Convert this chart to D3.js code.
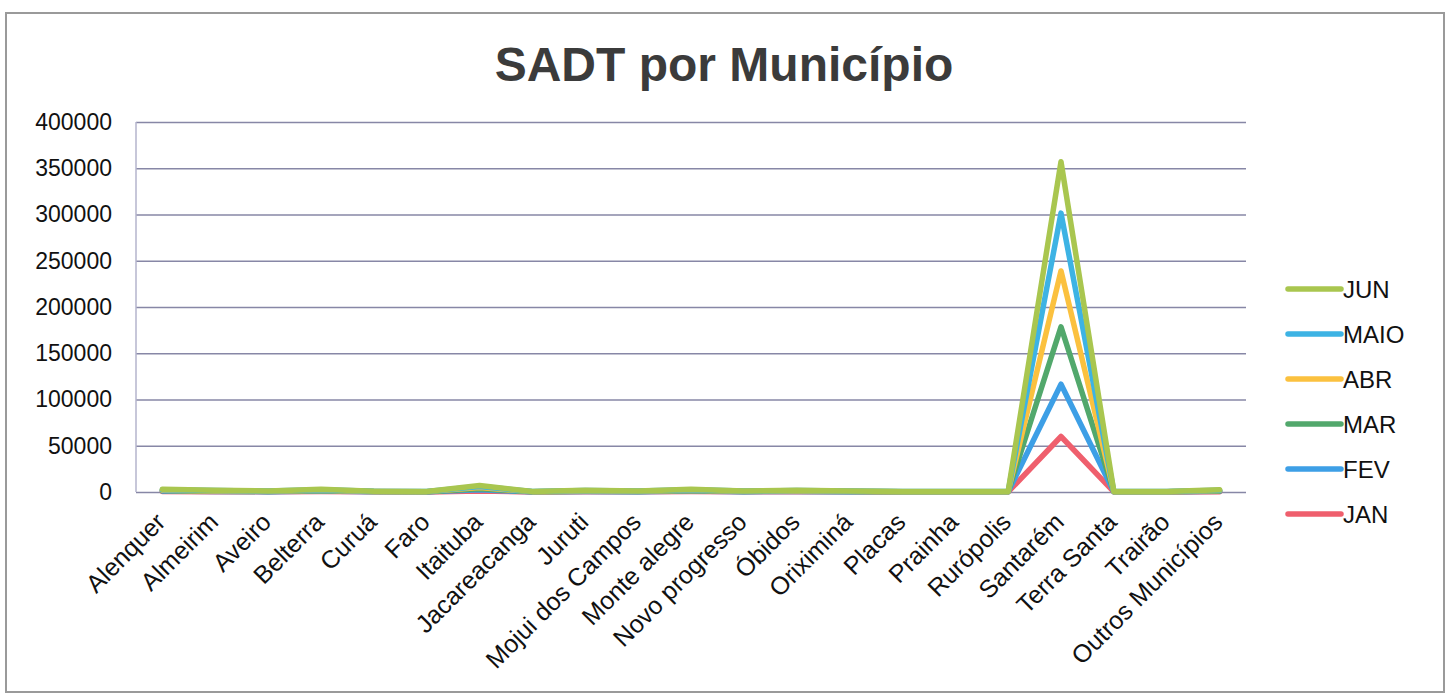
<!DOCTYPE html>
<meta charset="utf-8">
<style>
body { margin: 0; background: #fff; }
svg text { font-family: "Liberation Sans", Arial, sans-serif; fill: #111; }
.title { font-weight: bold; fill: #3b3b3b; }
.grid line { stroke: #8787a6; stroke-width: 1.5; }
.grid .domain { display: none; }
</style>
<body>
<div id="chart"></div>
<script src="https://d3js.org/d3.v7.min.js"></script>
<script>
var categories = ["Alenquer", "Almeirim", "Aveiro", "Belterra", "Curuá", "Faro", "Itaituba",
  "Jacareacanga", "Juruti", "Mojui dos Campos", "Monte alegre", "Novo progresso", "Óbidos",
  "Oriximiná", "Placas", "Prainha", "Rurópolis", "Santarém", "Terra Santa", "Trairão", "Outros Municípios"];

var months = ["JAN", "FEV", "MAR", "ABR", "MAIO", "JUN"];
var colors = ["#ef5f6d", "#3d9fe6", "#52a86c", "#fbc13f", "#3db3e4", "#a9c64f"];

var jan  = [500, 300, 200, 500, 150, 100, 1200, 100, 300, 200, 500, 200, 300, 200, 100, 100, 100, 60000, 100, 100, 400];
var fev  = [1000, 600, 400, 1000, 300, 200, 2400, 200, 600, 400, 1000, 400, 600, 400, 200, 200, 200, 116500, 200, 200, 800];
var mar  = [1500, 900, 600, 1500, 450, 300, 3600, 300, 900, 600, 1500, 600, 900, 600, 300, 300, 300, 178500, 300, 300, 1200];
var abr  = [2000, 1200, 800, 2000, 600, 400, 4800, 400, 1200, 800, 2000, 800, 1200, 800, 400, 400, 400, 239000, 400, 400, 1600];
var maio = [2500, 1500, 1000, 2500, 750, 500, 6000, 500, 1500, 1000, 2500, 1000, 1500, 1000, 500, 500, 500, 301500, 500, 500, 2000];
var jun  = [3000, 1800, 1200, 3000, 900, 600, 7000, 600, 1800, 1200, 3000, 1200, 1800, 1200, 600, 600, 600, 357000, 600, 600, 2400];
var series = [jan, fev, mar, abr, maio, jun];

var yTicks = [0, 50000, 100000, 150000, 200000, 250000, 300000, 350000, 400000];

var W = 1453, H = 697;
var pLeft = 136, pRight = 1246, pTop = 122, pBottom = 492;

var svg = d3.select("#chart").append("svg")
    .attr("width", W)
    .attr("height", H);

// chart frame
svg.append("rect")
  .attr("x", 6).attr("y", 13)
  .attr("width", 1438).attr("height", 679)
  .attr("fill", "#fff")
  .attr("stroke", "#9a9a9a")
  .attr("stroke-width", 2);

svg.append("text")
  .attr("class", "title")
  .attr("x", 724).attr("y", 81)
  .attr("text-anchor", "middle")
  .attr("font-size", 48)
  .text("SADT por Município");

var x = d3.scaleBand()
    .domain(categories)
    .range([pLeft, pRight]);

var y = d3.scaleLinear()
    .domain([0, 400000])
    .range([pBottom, pTop]);

// gridlines + y labels
var gy = svg.append("g")
  .attr("class", "grid")
  .attr("transform", "translate(" + pLeft + ",0)")
  .call(d3.axisLeft(y).tickValues(yTicks).tickSize(-(pRight - pLeft)).tickPadding(24)
    .tickFormat(d3.format("d")));
gy.selectAll("text").attr("font-size", 23);

svg.append("line")
  .attr("x1", pLeft).attr("x2", pLeft)
  .attr("y1", pTop).attr("y2", pBottom)
  .attr("stroke", "#b4b4cc").attr("stroke-width", 1.5);

// x labels
var gx = svg.append("g")
  .attr("transform", "translate(0," + pBottom + ")")
  .call(d3.axisBottom(x).tickSize(0));
gx.select(".domain").remove();
gx.selectAll("text")
  .attr("font-size", 25)
  .attr("text-anchor", "end")
  .attr("y", 0)
  .attr("dy", "0.71em")
  .attr("transform", "translate(-8,19) rotate(-45)");

var line = d3.line()
  .x(function(d, i) { return x(categories[i]) + x.bandwidth() / 2; })
  .y(function(d) { return y(d); });

svg.append("g").selectAll("path")
  .data(series)
  .enter().append("path")
    .attr("d", line)
    .attr("fill", "none")
    .attr("stroke", function(d, i) { return colors[i]; })
    .attr("stroke-width", 5.5)
    .attr("stroke-linejoin", "round")
    .attr("stroke-linecap", "round");

// legend, JUN on top
var legend = svg.append("g").selectAll("g")
  .data(months.slice().reverse())
  .enter().append("g")
    .attr("transform", function(d, i) { return "translate(1288," + (289 + i * 45) + ")"; });

legend.append("line")
  .attr("x1", 0).attr("x2", 53)
  .attr("stroke", function(d) { return colors[months.indexOf(d)]; })
  .attr("stroke-width", 5.5)
  .attr("stroke-linecap", "round");

legend.append("text")
  .attr("x", 55)
  .attr("dy", "0.36em")
  .attr("font-size", 24)
  .text(function(d) { return d; });
</script>
</body>
</html>
